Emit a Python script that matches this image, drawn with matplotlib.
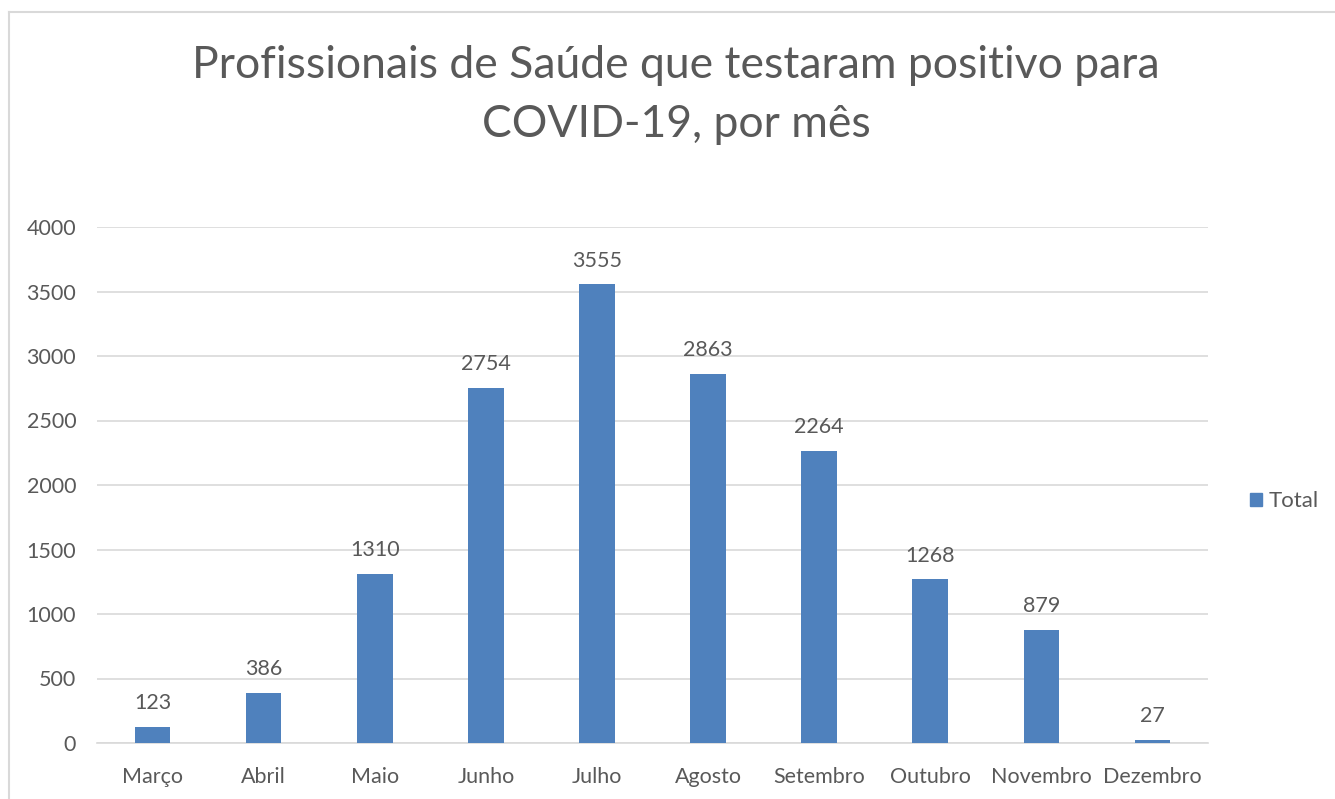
import matplotlib
matplotlib.use("Agg")
import matplotlib.pyplot as plt
from matplotlib.lines import Line2D
from matplotlib.patches import Patch

months = ["Março", "Abril", "Maio", "Junho", "Julho", "Agosto", "Setembro", "Outubro", "Novembro", "Dezembro"]
totals = [123, 386, 1310, 2754, 3555, 2863, 2264, 1268, 879, 27]
yticks = [0, 500, 1000, 1500, 2000, 2500, 3000, 3500, 4000]

plt.rcParams['font.family'] = ['Lato', 'DejaVu Sans']
txt = '#595959'
bar_color = '#4F81BD'
grid_color = '#D9D9D9'

fig = plt.figure(figsize=(13.35, 7.99), dpi=100)
ax = fig.add_axes([97/1335, 1-743/799, (1208-97)/1335, (743-227)/799])

x = list(range(len(months)))
bars = ax.bar(x, totals, width=0.32, color=bar_color, zorder=3)
for xi, v in zip(x, totals):
    ax.annotate(str(v), (xi, v), xytext=(0, 10), textcoords='offset points',
                ha='center', va='bottom', fontsize=15.5, color=txt)

ax.set_xlim(-0.5, len(months)-0.5)
ax.set_ylim(0, 4000)
ax.set_yticks(yticks)
ax.set_yticklabels([str(t) for t in yticks])
ax.set_xticks(x)
ax.set_xticklabels(months)
ax.tick_params(axis='both', length=0, labelsize=15.5, labelcolor=txt)
ax.tick_params(axis='x', pad=17)
ax.tick_params(axis='y', pad=15)
ax.grid(axis='y', color=grid_color, linewidth=1.2, zorder=0)
for s in ['top', 'right', 'left']:
    ax.spines[s].set_visible(False)
ax.spines['bottom'].set_color(grid_color)
ax.spines['bottom'].set_linewidth(1.2)

fig.text(676/1335, 1-95/799, "Profissionais de Saúde que testaram positivo para\nCOVID-19, por mês",
         ha='center', va='center', fontsize=32, color=txt, linespacing=1.55)

ax.legend(handles=[Patch(color=bar_color, label='Total')], loc='center left',
          bbox_to_anchor=(1.02, 1-(501-227)/516), frameon=False, fontsize=16,
          labelcolor=txt, handlelength=0.54, handleheight=0.54, handletextpad=0.3)

# figure border (top and left)
fig.add_artist(Line2D([9/1335, 1.0], [1-12/799, 1-12/799], transform=fig.transFigure, color='#D9D9D9', lw=1.5))
fig.add_artist(Line2D([9/1335, 9/1335], [0, 1-12/799], transform=fig.transFigure, color='#D9D9D9', lw=1.5))

fig.savefig("out.png", dpi=100)
